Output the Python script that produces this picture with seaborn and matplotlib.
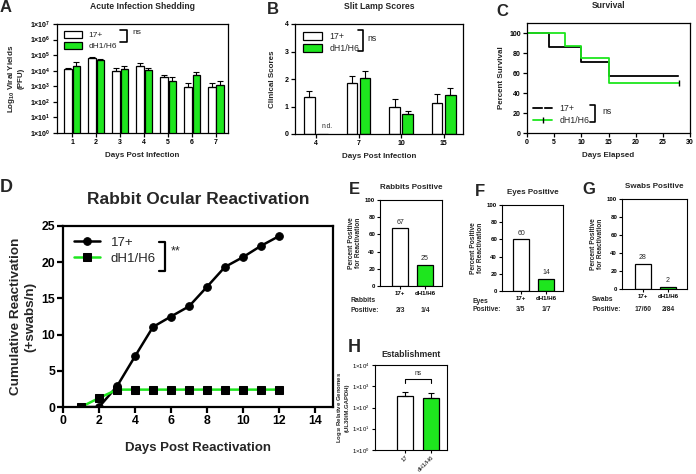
import matplotlib
matplotlib.use('Agg')
import matplotlib.pyplot as plt
import matplotlib.transforms as mtransforms
import numpy as np
import pandas as pd
import seaborn as sns

W, H = 696, 474
groups = ['17+', 'dH1/H6']
green = '#1EE61E'
colors = {'17+': 'white', 'dH1/H6': green}

# A: acute infection shedding, mean PFU and upper SEM
a_days = ['1', '2', '3', '4', '5', '6', '7']
a_wt = [1.2e4, 6.4e4, 1.0e4, 2.1e4, 4.0e3, 9.5e2, 9.5e2]
a_wt_err = [3e3, 1.1e4, 6e3, 1.0e4, 1.5e3, 6.5e2, 6.5e2]
a_mut = [2.1e4, 5.0e4, 1.3e4, 1.1e4, 2.1e3, 5.0e3, 1.15e3]
a_mut_err = [1.3e4, 5e3, 7e3, 4e3, 1.6e3, 3e3, 9.5e2]

# B: slit lamp scores
b_days = ['4', '7', '10', '15']
b_wt = [1.33, 1.84, 0.99, 1.11]
b_wt_err = [0.23, 0.26, 0.27, 0.34]
b_mut = [0, 2.05, 0.72, 1.43]
b_mut_err = [0, 0.24, 0.12, 0.23]

# C: survival
c_wt_days = [0, 4, 10, 15, 28]
c_wt_surv = [100, 85.7, 71.4, 57.1, 57.1]
c_mut_days = [0, 7, 10, 15, 28]
c_mut_surv = [100, 87.5, 75, 50, 50]

# D: cumulative reactivation
d_days = [1, 2, 3, 4, 5, 6, 7, 8, 9, 10, 11, 12]
d_wt = [0, 0, 2.86, 7.0, 11.06, 12.5, 13.9, 16.6, 19.35, 20.7, 22.26, 23.6]
d_mut = [0, 1.24, 2.4, 2.4, 2.4, 2.4, 2.4, 2.4, 2.4, 2.4, 2.4, 2.4]

# E-G: percent positive for reactivation
e_vals = [67, 25]
e_frac = ['2/3', '1/4']
f_vals = [60, 14]
f_frac = ['3/5', '1/7']
g_vals = [28, 2]
g_frac = ['17/60', '2/84']

# H: establishment
h_labels = ['17', 'dH1/H6']
h_vals = [350, 290]
h_err = [190, 190]

sns.set_theme(style='ticks')
plt.rcParams['font.family'] = ['Liberation Sans', 'DejaVu Sans']
plt.rcParams['mathtext.default'] = 'regular'
plt.rcParams['xtick.direction'] = 'out'
plt.rcParams['ytick.direction'] = 'out'

fig = plt.figure(figsize=(W / 100, H / 100), dpi=100)


def rect(x1, y1, x2, y2):
    return [x1 / W, 1 - y2 / H, (x2 - x1) / W, (y2 - y1) / H]


def style(ax, lw, fs, bold=True, tl=3):
    for s in ax.spines.values():
        s.set_visible(True)
        s.set_linewidth(lw)
        s.set_color('black')
    ax.tick_params(width=lw, length=tl, labelsize=fs, pad=1.5, colors='black')
    for t in ax.get_xticklabels() + ax.get_yticklabels():
        t.set_fontweight('bold' if bold else 'normal')


def add_err(ax, errs, lw=0.8, cap=2):
    bars = list(ax.containers[:len(errs)])
    for cont, err in zip(bars, errs):
        for bar, e in zip(cont, err):
            if e > 0:
                x = bar.get_x() + bar.get_width() / 2
                ax.errorbar(x, bar.get_height(), yerr=[[0], [e]], fmt='none',
                            ecolor='black', elinewidth=lw, capsize=cap,
                            capthick=lw, zorder=1)


def bracket(ax, x0, x1, y0, y1, txt, tx, ty, fs, lw=1.2):
    ax.plot([x0, x1, x1, x0], [y0, y0, y1, y1], color='black', lw=lw,
            transform=ax.transAxes, clip_on=False)
    ax.text(tx, ty, txt, transform=ax.transAxes, fontsize=fs, va='center')


def letter(x, y, s, fs):
    fig.text(x / W, 1 - y / H, s, fontsize=fs, fontweight='bold',
             ha='center', va='center')


# ---- A ----
axA = fig.add_axes(rect(57, 24, 228, 133))
dfA = pd.DataFrame({'Day': a_days * 2, 'Virus': ['17+'] * 7 + ['dH1/H6'] * 7,
                    'PFU': a_wt + a_mut})
sns.barplot(data=dfA, x='Day', y='PFU', hue='Virus', order=a_days,
            hue_order=groups, palette=colors, saturation=1, edgecolor='black',
            linewidth=0.9, width=0.68, gap=0.12, errorbar=None, ax=axA)
axA.set_yscale('log')
axA.set_ylim(1, 1e7)
axA.set_xlim(-0.63, 6.5)
axA.set_yticks([10.0 ** k for k in range(8)])
axA.set_yticklabels([r'1×10$^{%d}$' % k for k in range(8)])
axA.yaxis.set_minor_locator(matplotlib.ticker.NullLocator())
add_err(axA, [a_wt_err, a_mut_err], lw=0.8, cap=2)
axA.legend(frameon=False, loc='upper left', fontsize=6, handlelength=2.2,
           handleheight=1.0, borderaxespad=0.4, labelspacing=0.3)
bracket(axA, 0.37, 0.41, 0.945, 0.835, 'ns', 0.44, 0.92, 6)
axA.set_title('Acute Infection Shedding', fontsize=6.2, fontweight='bold', pad=11)
axA.set_xlabel('Days Post Infection', fontsize=5.8, fontweight='bold', labelpad=4)
axA.set_ylabel('Log$_{10}$ Viral Yields\n(PFU)', fontsize=5.8, fontweight='bold')
style(axA, 0.9, 5)

# ---- B ----
axB = fig.add_axes(rect(295, 24, 463, 134))
dfB = pd.DataFrame({'Day': b_days * 2, 'Virus': ['17+'] * 4 + ['dH1/H6'] * 4,
                    'Score': b_wt + b_mut})
sns.barplot(data=dfB, x='Day', y='Score', hue='Virus', order=b_days,
            hue_order=groups, palette=colors, saturation=1, edgecolor='black',
            linewidth=0.9, width=0.62, gap=0.2, errorbar=None, ax=axB)
axB.set_ylim(0, 4)
axB.set_xlim(-0.49, 3.45)
axB.set_yticks([0, 1, 2, 3, 4])
add_err(axB, [b_wt_err, b_mut_err], lw=0.8, cap=2.5)
nd = axB.containers[1][0]
axB.text(nd.get_x() + nd.get_width() / 2 + 0.1, 0.2, 'n.d.', fontsize=4.8,
         ha='center')
axB.legend(frameon=False, loc='upper left', fontsize=6.3, handlelength=2.2,
           handleheight=1.0, borderaxespad=0.5, labelspacing=0.4)
bracket(axB, 0.375, 0.405, 0.945, 0.755, 'ns', 0.43, 0.87, 6.3)
axB.set_title('Slit Lamp Scores', fontsize=6.2, fontweight='bold', pad=11)
axB.set_xlabel('Days Post Infection', fontsize=5.8, fontweight='bold', labelpad=4)
axB.set_ylabel('Clinical Scores', fontsize=5.8, fontweight='bold', labelpad=6)
style(axB, 0.9, 5)

# ---- C ----
axC = fig.add_axes(rect(527, 23, 690, 133))
sns.lineplot(x=c_wt_days, y=c_wt_surv, drawstyle='steps-post', color='black',
             lw=1.3, marker='|', markevery=[4], markersize=5, mew=1.0,
             label='17+', ax=axC)
sns.lineplot(x=c_mut_days, y=c_mut_surv, drawstyle='steps-post', color=green,
             lw=1.3, marker='|', markevery=[4], markersize=5, mew=1.0,
             mec='black', label='dH1/H6', ax=axC)
axC.set_xlim(0, 30)
axC.set_ylim(0, 110)
axC.set_yticks([0, 20, 40, 60, 80, 100])
axC.set_xticks([0, 5, 10, 15, 20, 25, 30])
axC.legend(frameon=False, loc='lower left', fontsize=6.3, handlelength=2.2,
           borderaxespad=0.3, labelspacing=0.25, bbox_to_anchor=(0.0, 0.02))
bracket(axC, 0.386, 0.417, 0.255, 0.1, 'ns', 0.46, 0.2, 6.3)
axC.set_title('Survival', fontsize=6.2, fontweight='bold', pad=11)
axC.set_xlabel('Days Elapsed', fontsize=5.8, fontweight='bold', labelpad=4)
axC.set_ylabel('Percent Survival', fontsize=5.8, fontweight='bold', labelpad=3)
style(axC, 0.9, 5)

# ---- D ----
axD = fig.add_axes(rect(63, 226, 333, 407))
sns.lineplot(x=d_days, y=d_wt, color='black', lw=1.8, marker='o',
             markersize=5.5, mec='black', mfc='black', label='17+', ax=axD)
sns.lineplot(x=d_days, y=d_mut, color=green, lw=1.8, marker='s',
             markersize=5.5, mec='black', mfc='black', label='dH1/H6', ax=axD)
axD.set_xlim(0, 15)
axD.set_ylim(0, 25)
axD.set_xticks(range(0, 15, 2))
axD.set_yticks(range(0, 26, 5))
axD.legend(frameon=False, loc='upper left', fontsize=9.5, handlelength=2.0,
           borderaxespad=0.4, labelspacing=0.3)
bracket(axD, 0.356, 0.376, 0.912, 0.751, '**', 0.40, 0.86, 9, lw=1.6)
axD.set_title('Rabbit Ocular Reactivation', fontsize=12.5, fontweight='bold',
              pad=16)
axD.set_xlabel('Days Post Reactivation', fontsize=9.5, fontweight='bold',
               labelpad=11)
axD.set_ylabel('Cumulative Reactivation\n(+swabs/n)', fontsize=9.7,
               fontweight='bold', labelpad=4)
style(axD, 1.6, 8.8, tl=4)


# ---- E, F, G ----
def positive(box, xl, title, vals, fracs, word, ylab, ytab):
    ax = fig.add_axes(rect(*box))
    sns.barplot(x=groups, y=vals, hue=groups, palette=colors, saturation=1,
                edgecolor='black', linewidth=0.9, width=0.62, legend=False,
                ax=ax)
    ax.set_ylim(0, 100)
    ax.set_xlim(*xl)
    ax.set_yticks([0, 20, 40, 60, 80, 100])
    for cont, v in zip(ax.containers, vals):
        b = cont[0]
        ax.text(b.get_x() + b.get_width() / 2, v + 3, str(v), fontsize=5,
                ha='center', va='bottom')
    ax.set_title(title, fontsize=5.8, fontweight='bold', pad=8)
    ax.set_ylabel('Percent Positive\nfor Reactivation', fontsize=4.8,
                  fontweight='bold', labelpad=2, linespacing=1.1)
    style(ax, 0.8, 4.4, tl=2)
    trans = mtransforms.blended_transform_factory(ax.transData, ax.transAxes)
    ax.text(ylab, ytab[0], word, transform=ax.transAxes, fontsize=4.9,
            fontweight='bold', va='center')
    ax.text(ylab, ytab[1], 'Positive:', transform=ax.transAxes, fontsize=4.9,
            fontweight='bold', va='center')
    for i, f in enumerate(fracs):
        ax.text(i, ytab[1], f, transform=trans, fontsize=4.9, fontweight='bold',
                ha='center', va='center')
    return ax


positive((380, 200, 442, 286), (-0.8, 1.68), 'Rabbits Positive', e_vals,
         e_frac, 'Rabbits', -0.48, (-0.17, -0.28))
positive((502, 205, 563, 291), (-0.76, 1.68), 'Eyes Positive', f_vals,
         f_frac, 'Eyes', -0.48, (-0.125, -0.22))
positive((622, 199, 687, 289), (-0.84, 1.76), 'Swabs Positive', g_vals,
         g_frac, 'Swabs', -0.46, (-0.12, -0.23))

# ---- H ----
axH = fig.add_axes(rect(375, 365, 447, 450))
sns.barplot(x=h_labels, y=h_vals, hue=h_labels,
            palette={'17': 'white', 'dH1/H6': green}, saturation=1,
            edgecolor='black', linewidth=0.9, width=0.6, legend=False, ax=axH)
axH.set_yscale('log')
axH.set_ylim(1, 1e4)
axH.set_xlim(-1.15, 1.6)
axH.set_yticks([10.0 ** k for k in range(5)])
axH.set_yticklabels([r'1×10$^{%d}$' % k for k in range(5)])
axH.yaxis.set_minor_locator(matplotlib.ticker.NullLocator())
add_err(axH, [[h_err[0]], [h_err[1]]], lw=0.8, cap=2.5)
axH.plot([0, 0, 1, 1], [1500, 2100, 2100, 1500], color='black', lw=0.8)
axH.text(0.5, 2600, 'ns', fontsize=4.8, ha='center', va='bottom')
axH.set_title('Establishment', fontsize=6.2, fontweight='bold', pad=6)
axH.set_ylabel('Log$_{10}$ Relative Genomes\n(UL30/M.GAPDH)', fontsize=4.3,
               fontweight='bold', labelpad=2, linespacing=1.1)
style(axH, 0.8, 4.3, bold=False, tl=2)
for t in axH.get_xticklabels():
    t.set_rotation(45)
    t.set_ha('right')
    t.set_rotation_mode('anchor')

# panel letters
letter(6, 8, 'A', 12)
letter(273, 10, 'B', 12)
letter(502, 11, 'C', 12)
letter(6, 188, 'D', 13)
letter(354, 190, 'E', 12)
letter(480, 192, 'F', 12)
letter(589, 190, 'G', 12)
letter(354, 347, 'H', 13)

fig.savefig('out.png', dpi=100)
